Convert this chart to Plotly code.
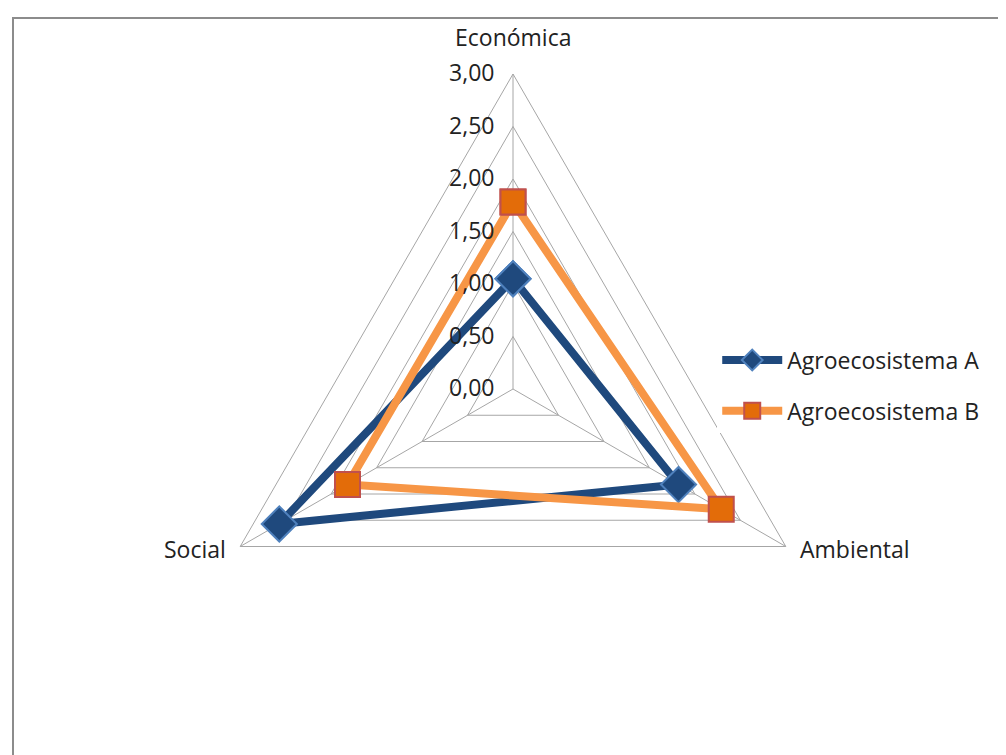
import math
import plotly.graph_objects as go

categories = ["Económica", "Ambiental", "Social"]
serie_a = [1.05, 1.82, 2.57]
serie_b = [1.78, 2.29, 1.82]
names = ["Agroecosistema A", "Agroecosistema B"]
radial_ticks = [0, 0.5, 1.0, 1.5, 2.0, 2.5, 3.0]

FONT = "Open Sans"
FS = 23
W, H = 1006, 755
cx, cy, R = 505, 381, 315

fig = go.Figure()
fig.add_trace(go.Scatterpolar(
    r=serie_a + serie_a[:1], theta=categories + categories[:1], name=names[0],
    mode="lines+markers", legendgroup="a",
    line=dict(color="#1F497D", width=8),
    marker=dict(symbol="diamond", size=27, color="#1F497D",
                line=dict(color="#4F81BD", width=2)),
))
fig.add_trace(go.Scatterpolar(
    r=serie_b + serie_b[:1], theta=categories + categories[:1], name=names[1],
    mode="lines+markers", legendgroup="b",
    line=dict(color="#F79646", width=8),
    marker=dict(symbol="square", size=25, color="#E36C09",
                line=dict(color="#C0504D", width=2)),
))

# category labels placed just outside each vertex of the polar grid
annotations = []
for i, cat in enumerate(categories):
    ang = math.radians(90 - 360 * i / len(categories))
    vx = cx + R * math.cos(ang)
    vy = cy - R * math.sin(ang)
    if i == 0:
        ax_, ay_, xa, ya = vx, vy - 19, "center", "bottom"
    elif math.cos(ang) > 0:
        ax_, ay_, xa, ya = vx + 12, vy + 2, "left", "middle"
    else:
        ax_, ay_, xa, ya = vx - 12, vy + 2, "right", "middle"
    annotations.append(dict(text=cat, x=ax_ / W, y=1 - ay_ / H, xref="paper", yref="paper",
                            xanchor=xa, yanchor=ya, showarrow=False,
                            font=dict(size=FS, family=FONT, color="#222222")))

fig.update_layout(
    width=W, height=H,
    margin=dict(l=0, r=0, t=0, b=0),
    paper_bgcolor="white", plot_bgcolor="white",
    separators=",.",
    font=dict(family=FONT, size=FS, color="#222222"),
    annotations=annotations,
    polar=dict(
        domain=dict(x=[(cx - R) / W, (cx + R) / W], y=[(H - cy - R) / H, (H - cy + R) / H]),
        bgcolor="white",
        gridshape="linear",
        angularaxis=dict(direction="clockwise", rotation=90,
                         showline=True, linecolor="#A6A6A6", linewidth=1,
                         gridcolor="#A6A6A6", gridwidth=1,
                         showticklabels=False, ticks=""),
        radialaxis=dict(range=[0, 3], tickvals=radial_ticks, tickformat=".2f",
                        angle=90, side="counterclockwise", tickangle=90,
                        showline=False, gridcolor="#A6A6A6", gridwidth=1,
                        ticks="outside", ticklen=10, tickcolor="rgba(0,0,0,0)",
                        tickfont=dict(size=FS, family=FONT, color="#222222")),
    ),
    legend=dict(x=0.705, y=0.50, xanchor="left", yanchor="middle",
                font=dict(size=FS, family=FONT, color="#222222"),
                tracegroupgap=18, itemwidth=60),
    shapes=[dict(type="rect", xref="paper", yref="paper",
                 x0=5 / W, x1=1.05, y0=-0.05, y1=(H - 10) / H,
                 line=dict(color="#8C8C8C", width=2), fillcolor="rgba(0,0,0,0)")],
)

fig.write_html("out.html")
